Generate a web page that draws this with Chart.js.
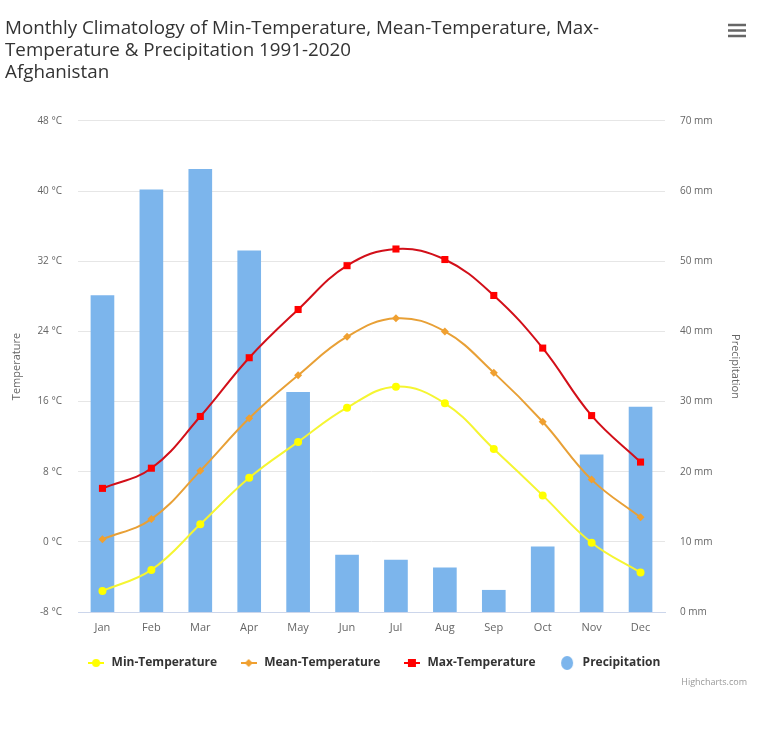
<!DOCTYPE html>
<html>
<head>
<meta charset="utf-8">
<script src="https://cdn.jsdelivr.net/npm/chart.js@4.4.1/dist/chart.umd.min.js"></script>
<style>
    html, body { margin: 0; padding: 0; background: #ffffff; }
    #wrap { width: 767px; height: 730px; }
</style>
</head>
<body>
<div id="wrap"><canvas id="climate-chart" width="767" height="730"></canvas></div>
<script>
const months = ['Jan', 'Feb', 'Mar', 'Apr', 'May', 'Jun', 'Jul', 'Aug', 'Sep', 'Oct', 'Nov', 'Dec'];
const minTemp = [-5.6, -3.2, 2.0, 7.3, 11.4, 15.3, 17.7, 15.8, 10.6, 5.3, -0.1, -3.5];
const meanTemp = [0.3, 2.6, 8.1, 14.1, 19.0, 23.4, 25.5, 24.0, 19.3, 13.7, 7.1, 2.8];
const maxTemp = [6.1, 8.4, 14.3, 21.0, 26.5, 31.5, 33.4, 32.2, 28.1, 22.1, 14.4, 9.1];
const precipitation = [45.1, 60.2, 63.1, 51.5, 31.3, 8.1, 7.4, 6.3, 3.1, 9.3, 22.4, 29.2];
const tempTicks = [-8, 0, 8, 16, 24, 32, 40, 48];
const precipTicks = [0, 10, 20, 30, 40, 50, 60, 70];

const titleLines = [
    'Monthly Climatology of Min-Temperature, Mean-Temperature, Max-',
    'Temperature & Precipitation 1991-2020',
    'Afghanistan'
];

const FONT = '"Open Sans", "Noto Sans", sans-serif';

// little legend symbols: a line with the marker on it
function legendSymbol(color, shape) {
    const c = document.createElement('canvas');
    c.width = 16; c.height = 12;
    const ctx = c.getContext('2d');
    ctx.strokeStyle = color; ctx.fillStyle = color; ctx.lineWidth = 2;
    ctx.beginPath(); ctx.moveTo(0, 6); ctx.lineTo(16, 6); ctx.stroke();
    ctx.beginPath();
    if (shape == 'circle') {
        ctx.arc(8, 6, 4, 0, Math.PI * 2);
    } else if (shape == 'square') {
        ctx.rect(4, 2, 8, 8);
    } else if (shape == 'diamond') {
        ctx.moveTo(8, 2); ctx.lineTo(12, 6); ctx.lineTo(8, 10); ctx.lineTo(4, 6); ctx.closePath();
    } else {
        ctx.arc(8, 6, 6, 0, Math.PI * 2);
    }
    ctx.fill();
    return c;
}

const symbols = [
    legendSymbol('#ffff00', 'circle'),
    legendSymbol('#f0a030', 'diamond'),
    legendSymbol('#ff0000', 'square'),
    null
];
(function () {
    const c = document.createElement('canvas');
    c.width = 16; c.height = 14;
    const ctx = c.getContext('2d');
    ctx.fillStyle = '#7cb5ec';
    ctx.beginPath(); ctx.ellipse(8, 7, 6, 7, 0, 0, Math.PI * 2); ctx.fill();
    symbols[3] = c;
})();

const extras = {
    id: 'extras',
    afterDraw(chart) {
        const ctx = chart.ctx;
        ctx.save();
        // menu icon
        ctx.strokeStyle = '#666666';
        ctx.lineWidth = 2.5;
        for (const y of [25, 30.5, 36]) {
            ctx.beginPath(); ctx.moveTo(728, y); ctx.lineTo(746, y); ctx.stroke();
        }
        // credits
        ctx.fillStyle = '#999999';
        ctx.font = '9px ' + FONT;
        ctx.textAlign = 'right';
        ctx.textBaseline = 'middle';
        ctx.fillText('Highcharts.com', 747, 682);
        ctx.restore();
    }
};

const chartData = {
    labels: months,
    datasets: [
        {
            type: 'line', label: 'Min-Temperature', data: minTemp, yAxisID: 'yTemp',
            borderColor: '#f5f532', backgroundColor: '#ffff00', borderWidth: 2,
            pointStyle: 'circle', pointRadius: 4, pointBorderWidth: 0,
            tension: 0.4, order: 0
        },
        {
            type: 'line', label: 'Mean-Temperature', data: meanTemp, yAxisID: 'yTemp',
            borderColor: '#e8a036', backgroundColor: '#f0a030', borderWidth: 2,
            pointStyle: 'rectRot', pointRadius: 4, pointBorderWidth: 0,
            tension: 0.4, order: 0
        },
        {
            type: 'line', label: 'Max-Temperature', data: maxTemp, yAxisID: 'yTemp',
            borderColor: '#d20f19', backgroundColor: '#ff0000', borderWidth: 2,
            pointStyle: 'rect', pointRadius: 5, pointBorderWidth: 0,
            tension: 0.4, order: 0
        },
        {
            type: 'bar', label: 'Precipitation', data: precipitation, yAxisID: 'yPrecip',
            backgroundColor: '#7cb5ec', barThickness: 23, order: 1
        }
    ]
};

const options = {
    responsive: false,
    animation: false,
    layout: { padding: { left: 5, right: 25, top: 0, bottom: 51 } },
    plugins: {
        title: {
            display: true,
            text: titleLines,
            align: 'start',
            color: '#333333',
            font: { family: FONT, size: 18.8, weight: 'normal', lineHeight: 1.17 },
            padding: { top: 18, bottom: 37 }
        },
        legend: {
            position: 'bottom',
            labels: {
                usePointStyle: true,
                pointStyleWidth: 19,
                padding: 22,
                color: '#333333',
                font: { family: FONT, size: 12, weight: 'bold' },
                generateLabels: (chart) => chart.data.datasets.map((ds, i) => ({
                    text: ds.label,
                    pointStyle: symbols[i],
                    fillStyle: ds.backgroundColor,
                    strokeStyle: ds.backgroundColor,
                    lineWidth: 0,
                    fontColor: '#333333',
                    hidden: false,
                    datasetIndex: i
                }))
            }
        },
        tooltip: { enabled: false }
    },
    scales: {
        x: {
            grid: { display: false, drawTicks: false },
            border: { display: true, color: '#ccd6eb' },
            ticks: { color: '#666666', font: { family: FONT, size: 11 }, padding: 9 },
            afterFit: (axis) => { axis.height = 23; }
        },
        yTemp: {
            position: 'left',
            min: -8, max: 48,
            afterBuildTicks: (axis) => { axis.ticks = tempTicks.map(v => ({ value: v })); },
            grid: { color: '#e6e6e6', drawTicks: false },
            border: { display: false },
            ticks: {
                color: '#666666', font: { family: FONT, size: 10 }, padding: 16,
                callback: (v) => `${v} °C`
            },
            title: {
                display: true, text: 'Temperature', color: '#666666',
                font: { family: FONT, size: 11 }, padding: { top: 5, bottom: 0 }
            },
            afterFit: (axis) => { axis.width = 73; }
        },
        yPrecip: {
            position: 'right',
            min: 0, max: 70,
            afterBuildTicks: (axis) => { axis.ticks = precipTicks.map(v => ({ value: v })); },
            grid: { display: false, drawTicks: false },
            border: { display: false },
            ticks: {
                color: '#666666', font: { family: FONT, size: 10 }, padding: 15,
                callback: (v) => `${v} mm`
            },
            title: {
                display: true, text: 'Precipitation', color: '#666666',
                font: { family: FONT, size: 11 }, padding: 0
            },
            afterFit: (axis) => { axis.width = 77; }
        }
    }
};

const chart_canvas = document.getElementById('climate-chart');
const climate_chart = new Chart(chart_canvas, {
    data: chartData,
    options: options,
    plugins: [extras]
});
</script>
</body>
</html>
